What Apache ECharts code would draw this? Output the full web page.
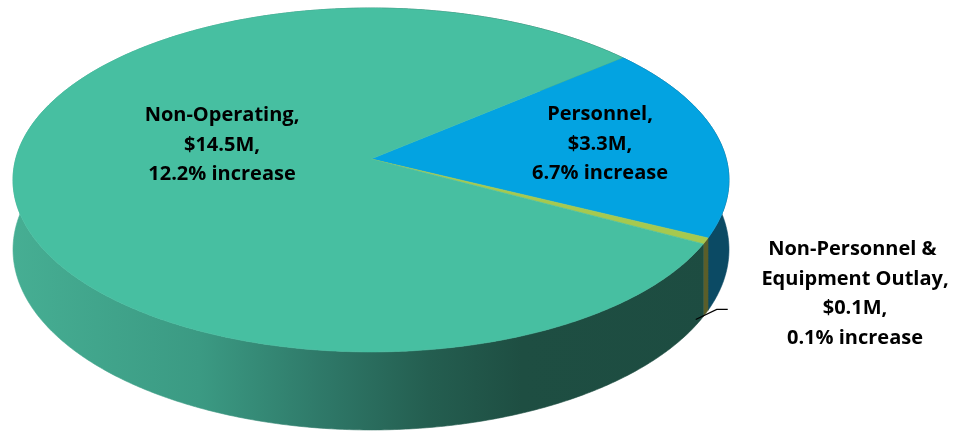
<!DOCTYPE html>
<html><head><meta charset="utf-8">
<script src="https://cdn.jsdelivr.net/npm/echarts@6/dist/echarts.min.js"></script>
<style>html,body{margin:0;padding:0;background:#fff}#c{width:955px;height:432px}</style>
</head><body><div id="c"></div>
<script>
// ---- data ----
const categories = ['Personnel', 'Non-Personnel & Equipment Outlay', 'Non-Operating'];
const amounts = [3.3, 0.1, 14.5];            // $M
const increases = ['6.7%', '0.1%', '12.2%'];

// ---- styles / layout (not data) ----
const topColors  = ['#03A3E1', '#A6C94F', '#47BFA1'];
const sideColors = ['#0B4A64', '#5A5E2A', null];
const labelPos = [[600, 144], [855, 294], [222, 145]];
const geo = { cx: 371, cy: 159, A: 355.3, B: 169.4, k: 0.122, H: 68.5, start: -40.2 };

const total = amounts.reduce((a, b) => a + b, 0);
const cum = []; amounts.reduce((acc, v, i) => { cum[i] = acc; return acc + v; }, 0);

function proj(deg, drop) {
  const t = deg * Math.PI / 180, u = Math.cos(t), v = Math.sin(t), w = 1 - geo.k * v;
  return [geo.cx + geo.A * u / w, geo.cy + geo.B * v / w + (drop ? geo.H / w : 0)];
}
function arc(a0, a1, drop) {
  const pts = [], n = Math.max(2, Math.ceil(Math.abs(a1 - a0) / 0.5));
  for (let i = 0; i <= n; i++) pts.push(proj(a0 + (a1 - a0) * i / n, drop));
  return pts;
}
const tealSide = new echarts.graphic.LinearGradient(13, 0, 730, 0, [
  { offset: 0, color: '#46AE93' }, { offset: 0.26, color: '#3B9A83' },
  { offset: 0.44, color: '#2E7767' }, { offset: 0.58, color: '#245E50' },
  { offset: 0.71, color: '#1E4E42' }, { offset: 1, color: '#1D4C41' }], true);

function renderItem(params, api) {
  const i = params.dataIndex;
  const val = api.value(0);
  const a0 = geo.start + cum[i] / total * 360;
  const a1 = a0 + val / total * 360;
  const topArc = arc(a0, a1, false);
  const botArc = arc(a1, a0, true);
  const side = sideColors[i] || tealSide;
  const children = [
    { type: 'polygon', z2: 1, shape: { points: topArc.concat(botArc) },
      style: { fill: side, stroke: side, lineWidth: 0.6 } },
    { type: 'polygon', z2: 10, shape: { points: [[geo.cx, geo.cy]].concat(topArc) },
      style: { fill: topColors[i], stroke: topColors[i], lineWidth: 0.6 } },
    { type: 'text', z2: 20, x: labelPos[i][0], y: labelPos[i][1],
      style: { text: categories[i] + ',\n$' + val.toFixed(1) + 'M,\n' + increases[i] + ' increase',
        width: 215, overflow: 'break',
        font: 'bold 20px "Open Sans"', fill: '#000', align: 'center', verticalAlign: 'middle', lineHeight: 29.5 } }
  ];
  if (i === 1) {
    const b = proj((a0 + a1) / 2, true);
    const s = [b[0] - 10, b[1] + 6];
    children.push({ type: 'polyline', z2: 15,
      shape: { points: [s, [s[0] + 21, s[1] - 10], [s[0] + 32, s[1] - 10]] },
      style: { stroke: '#000', lineWidth: 1.3, fill: null } });
  }
  return { type: 'group', children };
}

const chart = echarts.init(document.getElementById('c'), null, { renderer: 'canvas' });
chart.setOption({
  animation: false,
  series: [{ type: 'custom', coordinateSystem: 'none', renderItem,
    data: amounts.map((v, i) => ({ name: categories[i], value: [v] })) }]
});
</script></body></html>
